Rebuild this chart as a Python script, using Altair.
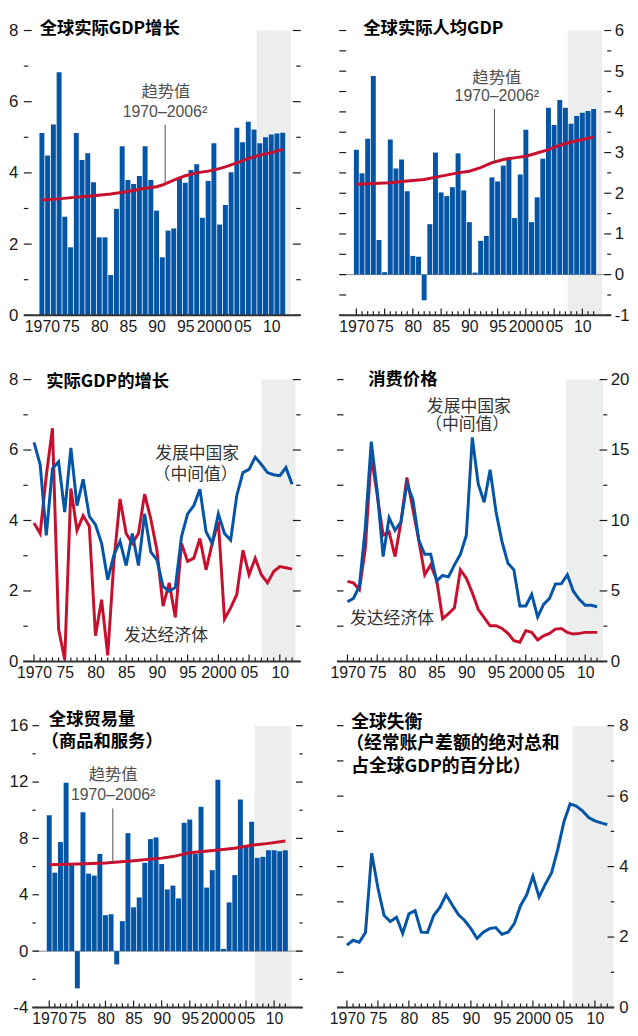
import altair as alt
import pandas as pd

# ---------------- data ----------------
years = list(range(1970, 2013))
x_label_years = [1970, 1975, 1980, 1985, 1990, 1995, 2000, 2005, 2010]

# Panel 1: world real GDP growth (%)
world_gdp_growth = [5.12, 4.49, 5.36, 6.83, 2.77, 1.91, 5.12, 4.36, 4.55, 3.74,
                    2.19, 2.19, 1.13, 2.99, 4.75, 3.80, 3.69, 3.91, 4.75, 3.80,
                    2.94, 1.63, 2.38, 2.44, 3.86, 3.72, 4.08, 4.24, 2.74, 3.77,
                    4.83, 2.55, 3.10, 4.02, 5.27, 4.86, 5.44, 5.22, 4.83, 5.00,
                    5.08, 5.11, 5.13]
world_gdp_trend_years = [1970, 1973, 1976, 1979, 1982, 1985, 1988, 1990, 1991, 1993,
                         1995, 1997, 1999, 2000, 2002, 2004, 2006, 2008, 2010, 2012]
world_gdp_trend = [3.24, 3.27, 3.32, 3.36, 3.41, 3.48, 3.57, 3.61, 3.66, 3.80,
                   3.92, 4.00, 4.05, 4.08, 4.17, 4.28, 4.40, 4.50, 4.57, 4.66]

# Panel 2: world real GDP per capita growth (%)
per_capita_growth = [3.07, 2.49, 3.34, 4.88, 0.85, 0.06, 3.32, 2.61, 2.83, 2.05,
                     0.46, 0.44, -0.63, 1.24, 3.00, 2.02, 1.93, 2.15, 2.98, 2.07,
                     1.29, 0.05, 0.83, 0.95, 2.39, 2.29, 2.68, 2.88, 1.39, 2.46,
                     3.56, 1.29, 1.90, 2.85, 4.10, 3.68, 4.29, 4.10, 3.71, 3.90,
                     3.98, 4.02, 4.07]
per_capita_trend_years = [1970, 1973, 1976, 1979, 1982, 1985, 1988, 1990, 1992, 1994,
                          1996, 1998, 2000, 2002, 2004, 2006, 2008, 2010, 2012]
per_capita_trend = [2.22, 2.24, 2.26, 2.30, 2.34, 2.42, 2.50, 2.54, 2.63, 2.75,
                    2.83, 2.87, 2.91, 2.99, 3.07, 3.18, 3.26, 3.32, 3.38]

# Panel 3: real GDP growth, developing (median) vs advanced
gdp_developing = [6.22, 5.59, 3.58, 5.47, 5.67, 4.24, 6.06, 4.42, 5.17, 4.12,
                  3.88, 3.35, 2.32, 3.02, 3.41, 2.72, 3.63, 2.72, 4.19, 3.11,
                  2.88, 2.13, 1.99, 2.10, 3.54, 4.19, 4.42, 4.89, 3.68, 3.35,
                  4.19, 3.63, 3.44, 4.71, 5.36, 5.45, 5.80, 5.59, 5.36, 5.30,
                  5.27, 5.50, 5.03]
gdp_advanced = [3.93, 3.63, 5.27, 6.62, 0.92, 0.05, 4.91, 3.72, 4.14, 3.84,
                0.73, 1.75, 0.17, 2.84, 4.61, 3.63, 3.35, 3.63, 4.75, 4.05,
                3.16, 1.57, 2.23, 1.25, 3.35, 2.84, 2.93, 3.49, 2.60, 3.35,
                3.96, 1.20, 1.52, 1.90, 3.16, 2.46, 2.93, 2.46, 2.23, 2.55,
                2.69, 2.66, 2.62]

# Panel 4: consumer prices
cpi_developing = [4.23, 4.47, 5.33, 9.50, 15.6, 12.1, 7.44, 10.2, 9.30, 9.90,
                  12.6, 11.5, 8.60, 7.60, 7.60, 5.70, 6.10, 6.00, 6.85, 7.60,
                  8.96, 15.9, 12.6, 11.3, 13.6, 10.6, 8.50, 6.97, 6.50, 3.93,
                  3.93, 4.75, 3.16, 4.05, 4.47, 5.50, 5.52, 6.15, 4.98, 4.40,
                  3.98, 3.98, 3.88]
cpi_advanced = [5.68, 5.57, 5.10, 8.00, 14.6, 11.8, 8.96, 9.20, 7.44, 9.90,
                13.05, 10.8, 8.60, 6.15, 6.85, 5.80, 3.04, 3.39, 3.81, 6.50,
                5.90, 4.87, 3.70, 3.10, 2.53, 2.53, 2.34, 1.99, 1.47, 1.36,
                2.18, 2.06, 1.52, 1.82, 1.99, 2.29, 2.34, 2.06, 1.94, 1.99,
                2.06, 2.06, 2.06]

# Panel 5: world trade volume (goods and services)
trade_volume = [9.64, 5.57, 7.74, 11.95, 6.10, -2.64, 9.85, 5.50, 5.36, 6.90,
                2.55, 2.62, -0.94, 2.13, 8.37, 3.11, 3.81, 6.27, 7.95, 8.07,
                6.18, 4.38, 4.65, 3.74, 9.12, 9.35, 6.90, 10.25, 4.51, 5.75,
                12.16, 0.16, 3.46, 5.40, 10.76, 7.44, 9.19, 6.62, 6.69, 7.16,
                7.16, 7.09, 7.16]
trade_trend_years = [1970, 1975, 1980, 1985, 1990, 1992, 1995, 2000, 2003, 2006, 2009, 2012]
trade_trend = [6.13, 6.18, 6.25, 6.41, 6.60, 6.71, 6.99, 7.18, 7.30, 7.51, 7.65, 7.81]

# Panel 6: global imbalances
imbalances = [1.77, 1.91, 1.85, 2.13, 4.38, 3.40, 2.61, 2.44, 2.56, 2.10,
              2.66, 2.75, 2.14, 2.13, 2.61, 2.84, 3.20, 2.91, 2.63, 2.47,
              2.24, 1.96, 2.14, 2.24, 2.27, 2.08, 2.14, 2.38, 2.89, 3.20,
              3.73, 3.14, 3.50, 3.82, 4.48, 5.27, 5.78, 5.72, 5.58, 5.39,
              5.30, 5.24, 5.19]

# ---------------- style ----------------
BLUE = "#0555A6"
RED = "#C8102E"
SHADE = "#ECEEED"
INK = "#1a1a1a"
GREY = "#505050"
NUM_FONT = "Liberation Sans"
CJK = "Noto Sans CJK SC"

LW, RW = 266, 262          # plot widths of left / right column
H1, H2, H3 = 288, 285, 285  # plot heights per row


def xsc(dom):
    return alt.Scale(domain=dom, nice=False, zero=False)


def ysc(dom):
    return alt.Scale(domain=dom, nice=False, zero=False)


def x_axis():
    return alt.Axis(values=x_label_years,
                    labelExpr="(datum.value == 1970 || datum.value == 2000) ? datum.label : substring(datum.label, 2)",
                    format="d", ticks=False, domain=False, grid=False,
                    labelFont=NUM_FONT, labelFontSize=16, labelColor=INK, labelPadding=3,
                    labelOverlap=False, labelFlush=False, title="")


def y_axis(orient, values, pad):
    return alt.Axis(orient=orient, values=values, format="d", ticks=False, domain=False,
                    grid=False, labelFont=NUM_FONT, labelFontSize=17, labelColor=INK,
                    labelPadding=pad, labelOverlap=False, labelFlush=False,
                    labelExpr="replace(datum.label, '\u2212', '-')", title="")


def X(p, field):
    return alt.X(field, scale=xsc(p["xdom"]), axis=p["xaxis"])


def Y(p, field):
    return alt.Y(field, scale=ysc(p["ydom"]), axis=p["yaxis"])


def frame(p):
    """shade, zero line, ticks for one panel"""
    H = p["H"]
    layers = []
    layers.append(alt.Chart(pd.DataFrame({"s0": [p["shade"][0]], "s1": [p["shade"][1]]}))
                  .mark_rect(color=SHADE)
                  .encode(x=X(p, "s0:Q"), x2="s1:Q", y=alt.value(0), y2=alt.value(H)))
    if p.get("zero"):
        layers.append(alt.Chart(pd.DataFrame({"v": [0]}))
                      .mark_rule(color="#8a8a8a", strokeWidth=1)
                      .encode(y=Y(p, "v:Q"), x=alt.value(p["fl"]), x2=alt.value(p["fr"])))
    maj = [y for y in years if y % 5 == 0]
    mnr = [y for y in years if y % 5 != 0]
    for vals, ln in ((maj, 7), (mnr, 4)):
        layers.append(alt.Chart(pd.DataFrame({"year": vals}))
                      .mark_rule(color=INK, strokeWidth=1.2)
                      .encode(x=X(p, "year:Q"), y=alt.value(H), y2=alt.value(H - ln)))
    for vals, side, ln in p["yticks"]:
        if side == "L":
            x0, x1 = p["fl"], p["fl"] + ln
        else:
            x0, x1 = p["fr"] - ln, p["fr"]
        layers.append(alt.Chart(pd.DataFrame({"v": vals}))
                      .mark_rule(color=INK, strokeWidth=1.2)
                      .encode(y=Y(p, "v:Q"), x=alt.value(x0), x2=alt.value(x1)))
    return layers


def baseline(p):
    return (alt.Chart(pd.DataFrame({"v": [p["ydom"][0]]}))
            .mark_rule(color="#333333", strokeWidth=2)
            .encode(y=Y(p, "v:Q"), x=alt.value(p["fl"]), x2=alt.value(p["fr"])))


def text(txt, x, y, size=17, color=INK, weight="normal", align="left", font=CJK):
    return (alt.Chart(pd.DataFrame({"t": [txt]}))
            .mark_text(align=align, baseline="middle", font=font, fontSize=size,
                       fontWeight=weight, color=color)
            .encode(x=alt.value(x), y=alt.value(y), text="t:N"))


def connector(p, xv, y0, y1):
    return (alt.Chart(pd.DataFrame({"cx": [xv], "cy0": [y0], "cy1": [y1]}))
            .mark_rule(color=GREY, strokeWidth=1)
            .encode(x=X(p, "cx:Q"), y=Y(p, "cy0:Q"), y2="cy1:Q"))


def bars(p, values):
    df = pd.DataFrame({"year": years, "value": values})
    return alt.Chart(df).mark_bar(size=5, color=BLUE).encode(x=X(p, "year:Q"), y=Y(p, "value:Q"))


def line(p, xs_, values, color):
    df = pd.DataFrame({"year": xs_, "value": values})
    return alt.Chart(df).mark_line(color=color, strokeWidth=3).encode(x=X(p, "year:Q"), y=Y(p, "value:Q"))


# ---------------- panel 1 ----------------
p1 = dict(xdom=[1969.087, 2013.244], ydom=[0, 8], H=H1, fl=-8, fr=272,
          shade=(2007.48, 2013.41), zero=False,
          xaxis=x_axis(), yaxis=y_axis("left", [0, 2, 4, 6, 8], 14),
          yticks=[([0, 2, 4, 6, 8], "L", 8), ([1, 3, 5, 7], "L", 4.5),
                  ([0, 2, 4, 6, 8], "R", 8), ([1, 3, 5, 7], "R", 4.5)])
c1 = alt.layer(*frame(p1),
               bars(p1, world_gdp_growth),
               line(p1, world_gdp_trend_years, world_gdp_trend, RED),
               connector(p1, 1991.5, 5.35, 3.72),
               baseline(p1),
               text("全球实际GDP增长", 8, -1.5, 17.5, "#000", "bold"),
               text("趋势值", 135.7, 62.7, 16.5, GREY, align="center"),
               text("1970–2006²", 134.7, 82, 16, GREY, align="center", font=NUM_FONT)
               ).properties(width=LW, height=H1)

# ---------------- panel 2 ----------------
p2 = dict(xdom=[1969.074, 2013.182], ydom=[-1, 6], H=H1, fl=-7, fr=268,
          shade=(2007.41, 2013.47), zero=True,
          xaxis=x_axis(), yaxis=y_axis("right", [-1, 0, 1, 2, 3, 4, 5, 6], 9),
          yticks=[([-1, -0.5, 0, 0.5, 1, 1.5, 2, 2.5, 3, 3.5, 4, 4.5, 5, 5.5, 6], "L", 7),
                  ([-1, 0, 1, 2, 3, 4, 5, 6], "R", 7),
                  ([-0.5, 0.5, 1.5, 2.5, 3.5, 4.5, 5.5], "R", 4)])
c2 = alt.layer(*frame(p2),
               bars(p2, per_capita_growth),
               line(p2, per_capita_trend_years, per_capita_trend, RED),
               connector(p2, 1994.44, 4.07, 2.74),
               baseline(p2),
               text("全球实际人均GDP", 17.3, -1.5, 17.5, "#000", "bold"),
               text("趋势值", 152.3, 47.7, 16.5, GREY, align="center"),
               text("1970–2006²", 152.3, 66.7, 16, GREY, align="center", font=NUM_FONT)
               ).properties(width=RW, height=H1)

# ---------------- panel 3 ----------------
p3 = dict(xdom=[1969.630, 2012.437], ydom=[0, 8], H=H2, fl=-8.5, fr=272,
          shade=(2007.01, 2012.55), zero=False,
          xaxis=x_axis(), yaxis=y_axis("left", [0, 2, 4, 6, 8], 14),
          yticks=[([0, 2, 4, 6, 8], "L", 8), ([1, 3, 5, 7], "L", 4.5),
                  ([0, 2, 4, 6, 8], "R", 8), ([1, 3, 5, 7], "R", 4.5)])
c3 = alt.layer(*frame(p3),
               line(p3, years, gdp_advanced, RED),
               line(p3, years, gdp_developing, BLUE),
               baseline(p3),
               text("实际GDP的增长", 14.7, 2.3, 17.5, "#000", "bold"),
               text("发展中国家", 167.3, 75.7, 17, "#333", align="center"),
               text("（中间值）", 165.7, 96.7, 17, "#333", align="center"),
               text("发达经济体", 135.7, 259, 17, "#333", align="center")
               ).properties(width=LW, height=H2)

# ---------------- panel 4 ----------------
p4 = dict(xdom=[1969.784, 2013.378], ydom=[0, 20], H=H2, fl=-9.3, fr=264,
          shade=(2006.77, 2012.99), zero=False,
          xaxis=x_axis(), yaxis=y_axis("right", [0, 5, 10, 15, 20], 5),
          yticks=[([0, 2.5, 5, 7.5, 10, 12.5, 15, 17.5, 20], "L", 6.6),
                  ([0, 5, 10, 15, 20], "R", 7.7),
                  ([2.5, 7.5, 12.5, 17.5], "R", 4)])
c4 = alt.layer(*frame(p4),
               line(p4, years, cpi_advanced, RED),
               line(p4, years, cpi_developing, BLUE),
               baseline(p4),
               text("消费价格", 22.3, 0.7, 17.5, "#000", "bold"),
               text("发展中国家", 124, 27.3, 17, "#333", align="center"),
               text("（中间值）", 122.3, 46.3, 17, "#333", align="center"),
               text("发达经济体", 46.3, 241.7, 17, "#333", align="center")
               ).properties(width=RW, height=H2)

# ---------------- panel 5 ----------------
p5 = dict(xdom=[1967.765, 2012.797], ydom=[-4, 16], H=H3, fl=0.7, fr=274,
          shade=(2006.53, 2013.08), zero=True,
          xaxis=x_axis(), yaxis=y_axis("left", [-4, 0, 4, 8, 12, 16], 4),
          yticks=[([-4, 0, 4, 8, 12, 16], "L", 6.6), ([-2, 2, 6, 10, 14], "L", 3.3),
                  ([-4, 0, 4, 8, 12, 16], "R", 6.7), ([-2, 2, 6, 10, 14], "R", 3.3)])
c5 = alt.layer(*frame(p5),
               bars(p5, trade_volume),
               line(p5, trade_trend_years, trade_trend, RED),
               connector(p5, 1981.31, 10.13, 6.27),
               baseline(p5),
               text("全球贸易量", 17.3, -5.5, 17.5, "#000", "bold"),
               text("（商品和服务）", 10, 17, 17.5, "#000", "bold"),
               text("趋势值", 82.3, 50.3, 16.5, GREY, align="center"),
               text("1970–2006²", 82.3, 69.7, 16, GREY, align="center", font=NUM_FONT)
               ).properties(width=LW, height=H3)

# ---------------- panel 6 ----------------
p6 = dict(xdom=[1969.888, 2011.674], ydom=[0, 8], H=H3, fl=-9.3, fr=271,
          shade=(2006.41, 2012.96), zero=False,
          xaxis=x_axis(), yaxis=y_axis("right", [0, 2, 4, 6, 8], 13.7),
          yticks=[([0, 1, 2, 3, 4, 5, 6, 7, 8], "L", 6.6),
                  ([0, 2, 4, 6, 8], "R", 6.7), ([1, 3, 5, 7], "R", 3.5)])
c6 = alt.layer(*frame(p6),
               line(p6, years, imbalances, BLUE),
               baseline(p6),
               text("全球失衡", 5, -2.2, 18, "#000", "bold"),
               text("（经常账户差额的绝对总和", 0, 19, 18, "#000", "bold"),
               text("占全球GDP的百分比）", 5, 42, 18, "#000", "bold")
               ).properties(width=RW, height=H3)

chart = (alt.concat(c1, c2, c3, c4, c5, c6, columns=2,
                    spacing={"row": 65, "column": 52}, bounds="flush")
         .properties(padding={"left": 0, "top": 6, "right": 0, "bottom": 0})
         .configure_view(strokeWidth=0))

chart.save("out.html", embed_options={"renderer": "svg", "actions": False})
